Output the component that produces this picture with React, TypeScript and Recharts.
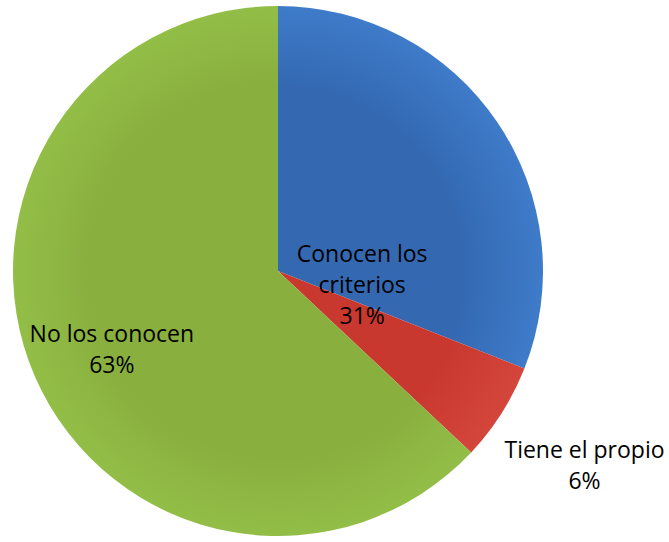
import { PieChart, Pie, Cell } from 'recharts';

const names = ['Conocen los criterios', 'Tiene el propio', 'No los conocen'];
const values = [31, 6, 63];
const colors = ['#3469b2', '#c8382f', '#89af3e'];
const lightColors = ['#3e7bc9', '#d4453b', '#92be47'];
// label lines as drawn in the picture
const labelLines = [['Conocen los', 'criterios', '31%'], ['Tiene el propio', '6%'], ['No los conocen', '63%']];

const data = names.map((name, i) => ({ name, value: values[i] }));

const RAD = Math.PI / 180;
const labelPlace = [
  { r: 0.322, a: -43.7 },
  { r: 1.37, a: 0 },
  { r: 0.694, a: 2 },
];

function renderLabel(props: any) {
  const { cx, cy, midAngle, outerRadius, index } = props;
  const p = labelPlace[index];
  const ang = (midAngle + p.a) * RAD;
  const x = cx + outerRadius * p.r * Math.cos(ang);
  const y = cy - outerRadius * p.r * Math.sin(ang);
  const lines = labelLines[index];
  const lh = 31;
  const y0 = y + 8 - ((lines.length - 1) * lh) / 2;
  return (
    <text
      x={x}
      y={y0}
      textAnchor="middle"
      fill="#000"
      fontSize={23}
      fontFamily="'Open Sans', sans-serif"
    >
      {lines.map((l, i) => (
        <tspan key={i} x={x} y={y0 + i * lh}>
          {l}
        </tspan>
      ))}
    </text>
  );
}

export default function App() {
  return (
    <div style={{ position: 'absolute', left: 0, top: 0, width: 669, height: 542, background: '#fff' }}>
      <PieChart width={669} height={542} margin={{ top: 0, right: 0, bottom: 0, left: 0 }}>
        <defs>
          {colors.map((c, i) => (
            <radialGradient key={i} id={`g${i}`} cx={278} cy={271} r={265} gradientUnits="userSpaceOnUse">
              <stop offset="0%" stopColor={c} />
              <stop offset="70%" stopColor={c} />
              <stop offset="100%" stopColor={lightColors[i]} />
            </radialGradient>
          ))}
        </defs>
        <Pie
          data={data}
          dataKey="value"
          nameKey="name"
          cx={278}
          cy={271}
          outerRadius={265}
          startAngle={90}
          endAngle={-270}
          stroke="none"
          label={renderLabel}
          labelLine={false}
          isAnimationActive={false}
        >
          {data.map((entry, i) => (
            <Cell key={`cell-${i}`} fill={`url(#g${i})`} />
          ))}
        </Pie>
      </PieChart>
    </div>
  );
}
